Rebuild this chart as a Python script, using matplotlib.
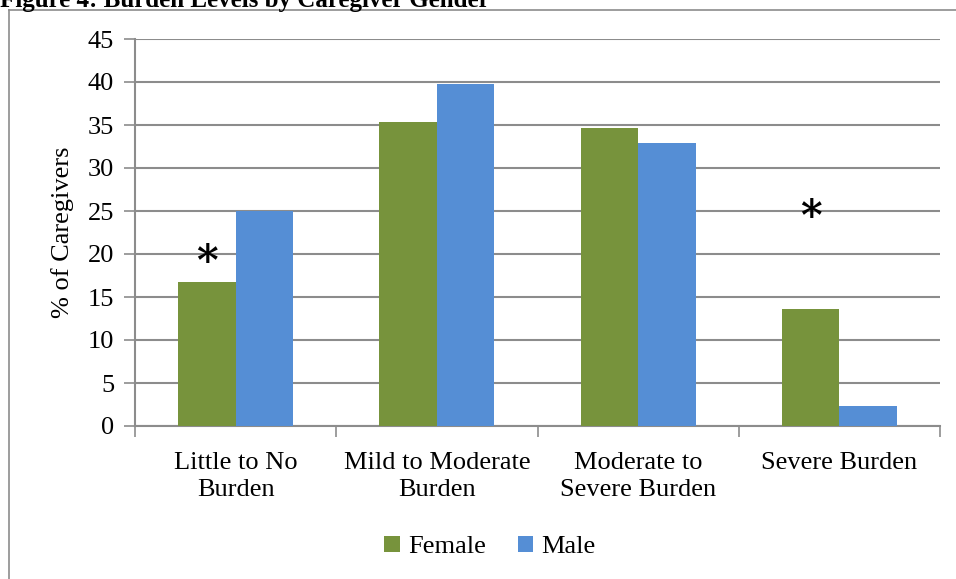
import matplotlib
matplotlib.use("Agg")
import matplotlib.pyplot as plt
import numpy as np
from matplotlib.lines import Line2D

categories = ["Little to No\nBurden", "Mild to Moderate\nBurden", "Moderate to\nSevere Burden", "Severe Burden"]
female = [16.7, 35.3, 34.6, 13.6]
male = [25.0, 39.8, 32.9, 2.3]
star_cats = [0, 3]
star_vals = [19.0, 24.2]
yticks = [0, 5, 10, 15, 20, 25, 30, 35, 40, 45]

plt.rcParams['font.family'] = ['Liberation Serif', 'DejaVu Serif']

W, H = 956, 579
FS = 19
fig = plt.figure(figsize=(W/100, H/100), dpi=100)
fig.patch.set_facecolor('white')

# outer chart border (cropped on right/bottom)
fig.add_artist(Line2D([9/W, 9/W], [0, 1-10/H], transform=fig.transFigure, color='#8c8c8c', lw=1.2))
fig.add_artist(Line2D([9/W, 1], [1-10/H, 1-10/H], transform=fig.transFigure, color='#8c8c8c', lw=1.2))

fig.text(0.0, 1-7/H, "Figure 4: Burden Levels by Caregiver Gender", fontsize=18, fontweight='bold',
         ha='left', va='baseline')

ax = fig.add_axes([135/W, 1-426/H, (940-135)/W, (426-39)/H])
x = np.arange(len(categories))
bw = 1/3.5
ax.bar(x - bw/2, female, width=bw, color='#77933C', label='Female', zorder=3)
ax.bar(x + bw/2, male, width=bw, color='#558ED5', label='Male', zorder=3)

for c, v in zip(star_cats, star_vals):
    ax.text(c - bw/2, v, "*", fontsize=30, fontweight='bold', ha='center', va='center',
            family=['DejaVu Serif'], zorder=4)

ax.set_xlim(-0.5, len(categories) - 0.5)
ax.set_ylim(0, 45)
ax.set_yticks(yticks)
ax.set_yticklabels([str(t) for t in yticks], fontsize=FS)
ax.yaxis.grid(True, color='#8c8c8c', lw=1.5, zorder=0)
ax.set_axisbelow(True)
ax.tick_params(axis='y', length=8, width=1.2, color='#8c8c8c', pad=7)

ax.set_xticks(np.arange(len(categories) + 1) - 0.5)
ax.set_xticklabels([])
ax.set_xticks(x, minor=True)
ax.set_xticklabels(categories, minor=True, fontsize=FS, linespacing=1.3)
ax.tick_params(axis='x', which='major', length=8, width=1.2, color='#8c8c8c')
ax.tick_params(axis='x', which='minor', length=0, pad=19)

for s in ['top', 'right']:
    ax.spines[s].set_visible(False)
for s in ['left', 'bottom']:
    ax.spines[s].set_color('#8c8c8c')
    ax.spines[s].set_linewidth(1.5)

ax.set_ylabel("% of Caregivers", fontsize=FS, labelpad=10)

handles, labels = ax.get_legend_handles_labels()
fig.legend(handles, labels, loc='center', bbox_to_anchor=(490/W, 1-547/H), ncol=2, frameon=False,
           fontsize=FS, handlelength=0.6, handleheight=0.6, handletextpad=0.3, columnspacing=1.2)

fig.savefig("out.png", dpi=100)
